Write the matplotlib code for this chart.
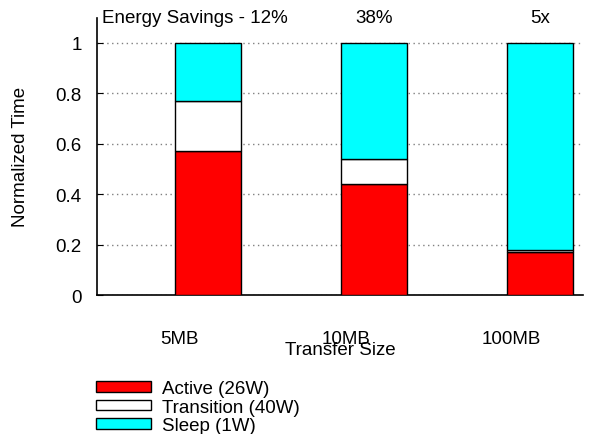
import matplotlib
matplotlib.use("Agg")
import matplotlib.pyplot as plt
import numpy as np

plt.rcParams['font.family'] = ['Liberation Sans', 'DejaVu Sans']

categories = ["5MB", "10MB", "100MB"]
active = [0.57, 0.44, 0.17]
transition = [0.20, 0.10, 0.01]
sleep = [0.23, 0.46, 0.82]
series_labels = ["Active (26W)", "Transition (40W)", "Sleep (1W)"]
colors = ["#ff0000", "#ffffff", "#00ffff"]
savings = ["Energy Savings - 12%", "38%", "5x"]

FS = 13.5

fig = plt.figure(figsize=(5.95, 4.35), dpi=100)
ax = fig.add_axes([0.163, 0.3195, 0.817, 0.6375])

x = np.arange(len(categories))
offset = 0.169
width = 0.4
bottoms = np.zeros(len(categories))
handles = []
for vals, lab, col in zip([active, transition, sleep], series_labels, colors):
    h = ax.bar(x + offset, vals, width, bottom=bottoms, color=col,
               edgecolor="black", linewidth=1.0, label=lab, zorder=3)
    handles.append(h)
    bottoms = bottoms + np.array(vals)

ax.set_xlim(-0.5, 2.43)
ax.set_ylim(0, 1.1)
ax.set_yticks([0, 0.2, 0.4, 0.6, 0.8, 1.0])
ax.set_yticklabels(["0", "0.2", "0.4", "0.6", "0.8", "1"])
ax.set_xticks(x)
ax.set_xticklabels(categories)
ax.tick_params(axis='y', direction='in', length=4, labelsize=FS, pad=11)
ax.tick_params(axis='x', length=0, labelsize=FS, pad=25)
ax.yaxis.grid(True, linestyle=(0, (1, 2.5)), color="#808080", linewidth=1.0, zorder=0)
ax.set_axisbelow(True)
for s in ["top", "right"]:
    ax.spines[s].set_visible(False)
for s in ["left", "bottom"]:
    ax.spines[s].set_linewidth(1.2)

ax.set_ylabel("Normalized Time", fontsize=FS, labelpad=19)
ax.set_xlabel("Transfer Size", fontsize=FS, labelpad=-4)

# savings annotations
ax.text(-0.47, 1.1, savings[0], fontsize=FS, ha='left', va='center')
ax.text(1 + offset, 1.1, savings[1], fontsize=FS, ha='center', va='center')
ax.text(2 + offset, 1.1, savings[2], fontsize=FS, ha='center', va='center')

fig.legend(handles=handles, labels=series_labels, loc='upper left',
           bbox_to_anchor=(0.161, 0.124), frameon=False, fontsize=FS,
           handlelength=2.95, handleheight=0.5, labelspacing=0.08,
           handletextpad=0.6, borderaxespad=0, borderpad=0)

fig.savefig("out.png", dpi=100)
